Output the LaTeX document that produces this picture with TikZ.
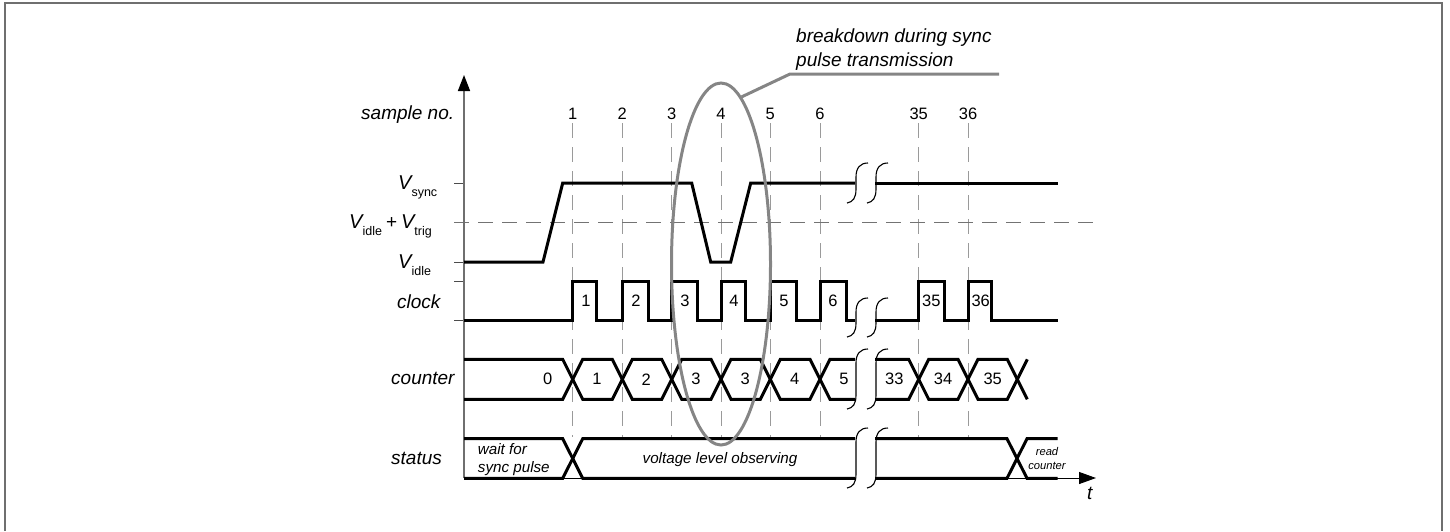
\documentclass[tikz,border=0pt]{standalone}
\usepackage{fontspec}
\setmainfont{Liberation Sans}
\usetikzlibrary{arrows.meta,shapes.geometric}
\definecolor{framegray}{HTML}{6F6F6F}
\definecolor{guidegray}{HTML}{9A9A9A}
\definecolor{notegray}{HTML}{858585}
\newcommand{\fsize}[1]{\fontsize{#1}{#1}\selectfont}
\newcommand{\Vlab}[1]{{\fsize{20}\itshape V}\raisebox{-7pt}{\fsize{12.5}#1}}
\newcommand{\signalbreak}[2]{
  \draw[breakline] (847,#2) .. controls (853,{#2-1}) and (856,{#2-5}) .. (856,{#2-14})
    -- (856,{#1+14}) .. controls (856,{#1+5}) and (860,#1) .. (868,#1);
  \draw[breakline,xshift=20pt] (847,#2) .. controls (853,{#2-1}) and (856,{#2-5}) .. (856,{#2-14})
    -- (856,{#1+14}) .. controls (856,{#1+5}) and (860,#1) .. (868,#1);
}
\tikzset{
  trace/.style={line width=3pt,black},
  breakline/.style={line width=1.1pt,black},
  guide/.style={line width=1pt,guidegray,dash pattern=on 15pt off 9pt},
  note/.style={line width=3pt,notegray},
  tick/.style={line width=1pt,black!70},
  side/.style={font=\fsize{19}\itshape,inner sep=0pt,anchor=west},
  num/.style={font=\fsize{16.5},inner sep=0pt,minimum height=18pt},
  state/.style={font=\fsize{16.5},inner sep=0pt}
}
\begin{document}
\begin{tikzpicture}[x=1pt,y=-1pt]
  \useasboundingbox (0,0) rectangle (1450,531);
  \draw[line width=2pt,framegray] (5,531) -- (5,2.7) -- (1442.4,2.7) -- (1442.4,531);

  \coordinate (o) at (464,478);
  \coordinate (ytip) at (464,75);
  \coordinate (xtip) at (1096,478);
  \coordinate (xgap) at (855,478);
  \coordinate (xrest) at (875,478);
  \coordinate (gb) at (0,437);
  \coordinate (trigl) at (454,222);
  \coordinate (trigr) at (1098,222);

  \node[side] (samplelab) at (361,115) {sample no.};
  \node[side] (clocklab) at (397,301.5) {clock};
  \node[side] (counterlab) at (391,378) {counter};
  \node[side] (statuslab) at (391,458) {status};
  \node[side] (tlab) at (1087,493) {t};
  \node[inner sep=0pt,anchor=base west] (vsync) at (398,189) {\Vlab{sync}};
  \node[inner sep=0pt,anchor=base west] (vtrig) at (349,228) {\Vlab{idle}\fsize{19}\hspace{4pt}+\hspace{4pt}\Vlab{trig}};
  \node[inner sep=0pt,anchor=base west] (vidle) at (398,268.7) {\Vlab{idle}};

  \node[num] (s1) at (572.7,114) {1};
  \node[num] (s2) at (622.3,114) {2};
  \node[num] (s3) at (671.7,114) {3};
  \node[num] (s4) at (721,114) {4};
  \node[num] (s5) at (770.3,114) {5};
  \node[num] (s6) at (820,114) {6};
  \node[num] (s35) at (918.7,114) {35};
  \node[num] (s36) at (968,114) {36};
  \draw[guide] (s1) -- (s1 |- gb);
  \draw[guide] (s2) -- (s2 |- gb);
  \draw[guide] (s3) -- (s3 |- gb);
  \draw[guide] (s4) -- (s4 |- gb);
  \draw[guide] (s5) -- (s5 |- gb);
  \draw[guide] (s6) -- (s6 |- gb);
  \draw[guide] (s35) -- (s35 |- gb);
  \draw[guide] (s36) -- (s36 |- gb);
  \draw[guide,black!55] (trigl) -- (trigr);

  \draw[tick] (454,183) -- (464,183);
  \draw[tick] (454,262) -- (464,262);
  \draw[tick] (454,281.5) -- (464,281.5);
  \draw[tick] (454,320) -- (464,320);
  \draw[line width=1.5pt,framegray,-{Triangle[length=16pt,width=12pt,color=black]}] (o) -- (ytip);
  \draw[line width=1pt] (o) -- (xgap);
  \draw[line width=1pt,-{Triangle[length=17pt,width=12pt]}] (xrest) -- (xtip);

  \draw[trace] (464,262) -- (543,262) -- (562.7,183) -- (691.7,183) -- (710.7,262)
    -- (730.7,262) -- (750.7,183) -- (855,183);
  \draw[trace] (875,183) -- (1057.7,183);

  \draw[trace] (464,320) -- (572.7,320) -- (572.7,281.5) -- (596.7,281.5) -- (596.7,320)
    -- (622.3,320) -- (622.3,281.5) -- (648.3,281.5) -- (648.3,320)
    -- (671.7,320) -- (671.7,281.5) -- (697.7,281.5) -- (697.7,320)
    -- (721,320) -- (721,281.5) -- (745,281.5) -- (745,320)
    -- (770.3,320) -- (770.3,281.5) -- (796,281.5) -- (796,320)
    -- (820,320) -- (820,281.5) -- (846,281.5) -- (846,320) -- (855,320);
  \draw[trace] (875,320) -- (918.7,320) -- (918.7,281.5) -- (944.3,281.5) -- (944.3,320)
    -- (968,320) -- (968,281.5) -- (991.7,281.5) -- (991.7,320) -- (1057.7,320);
  \node[state] (c1) at (586,301) {1};
  \node[state] (c2) at (636,301) {2};
  \node[state] (c3) at (685,301) {3};
  \node[state] (c4) at (734,301) {4};
  \node[state] (c5) at (784,301) {5};
  \node[state] (c6) at (833,301) {6};
  \node[state] (c35) at (931.3,301) {35};
  \node[state] (c36) at (980.7,301) {36};

  \draw[trace] (464,359.3) -- (562.7,359.3) -- (582.7,399.3) -- (612.3,399.3) -- (632.3,359.3)
    -- (661.7,359.3) -- (681.7,399.3) -- (711,399.3) -- (731,359.3)
    -- (760.3,359.3) -- (780.3,399.3) -- (810,399.3) -- (830,359.3) -- (855,359.3);
  \draw[trace] (464,399.3) -- (562.7,399.3) -- (582.7,359.3) -- (612.3,359.3) -- (632.3,399.3)
    -- (661.7,399.3) -- (681.7,359.3) -- (711,359.3) -- (731,399.3)
    -- (760.3,399.3) -- (780.3,359.3) -- (810,359.3) -- (830,399.3) -- (855,399.3);
  \draw[trace] (875,359.3) -- (908.7,359.3) -- (928.7,399.3) -- (958,399.3) -- (978,359.3)
    -- (1007.3,359.3) -- (1027.3,399.3);
  \draw[trace] (875,399.3) -- (908.7,399.3) -- (928.7,359.3) -- (958,359.3) -- (978,399.3)
    -- (1007.3,399.3) -- (1027.3,359.3);
  \node[state] (n0) at (547.7,379.3) {0};
  \node[state] (n1) at (597,379.3) {1};
  \node[state] (n2) at (646.3,379.3) {2};
  \node[state] (n3) at (696,379.3) {3};
  \node[state] (n3b) at (745.3,379.3) {3};
  \node[state] (n4) at (794.7,379.3) {4};
  \node[state] (n5) at (844,379.3) {5};
  \node[state] (n33) at (894.3,379.3) {33};
  \node[state] (n34) at (943,379.3) {34};
  \node[state] (n35) at (992.7,379.3) {35};

  \draw[trace] (464,438.7) -- (562.7,438.7) -- (582.7,478.3) -- (855,478.3);
  \draw[trace] (464,478.3) -- (562.7,478.3) -- (582.7,438.7) -- (855,438.7);
  \draw[trace] (875,438.7) -- (1007,438.7) -- (1027,478.3) -- (1057.7,478.3);
  \draw[trace] (875,478.3) -- (1007,478.3) -- (1027,438.7) -- (1057.7,438.7);
  \node[font=\fsize{15.2}\itshape,inner sep=0pt,align=left,anchor=west] (waitlab) at (477.7,459.3) {wait for\\[3pt]sync pulse};
  \node[font=\fsize{15.2}\itshape,inner sep=0pt] (observelab) at (720,459.5) {voltage level observing};
  \node[font=\fsize{11.2}\itshape,inner sep=0pt,align=center] (readlab) at (1047,458.5) {read\\[3pt]counter};

  \signalbreak{163}{203}
  \signalbreak{298}{337}
  \signalbreak{349}{409}
  \signalbreak{428}{488}

  \node[draw=notegray,line width=3pt,ellipse,inner sep=0pt,minimum width=99pt,minimum height=362pt] (breakdown) at (721,264) {};
  \coordinate (knee) at (790,74);
  \coordinate (noteend) at (999,74);
  \draw[note] (breakdown.83.4) -- (knee) -- (noteend);
  \node[font=\fsize{19}\itshape,inner sep=0pt,align=left,anchor=west] (notelab) at (796,50) {breakdown during sync\\[5pt]pulse transmission};
\end{tikzpicture}
\end{document}
